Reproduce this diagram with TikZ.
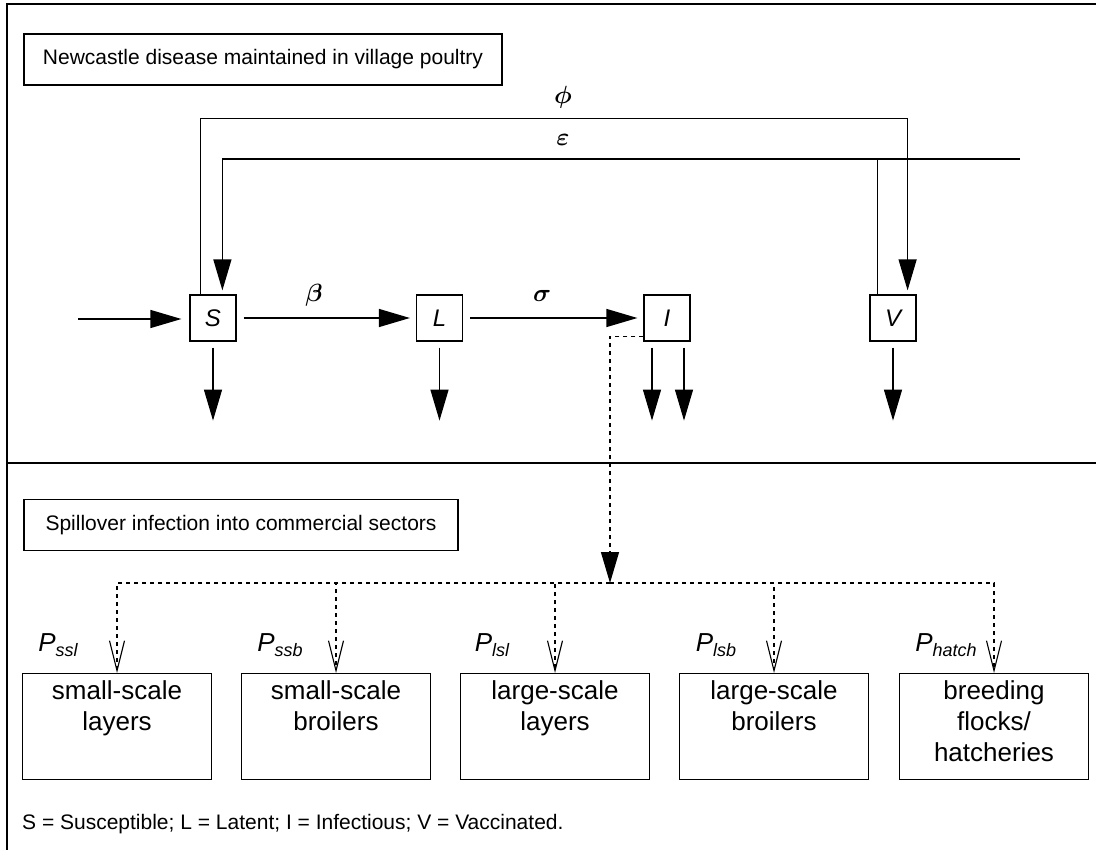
\documentclass[tikz,border=0pt]{standalone}
\usepackage{fontspec}
\setmainfont{Liberation Sans}
\usetikzlibrary{arrows.meta,calc}
\begin{document}
\begin{tikzpicture}[x=1pt,y=-1pt,
  lw/.style={line width=1.3pt},
  comp/.style={draw, line width=1.2pt, minimum width=46pt, minimum height=46pt, inner sep=0pt, font=\fontsize{24}{28}\selectfont\itshape},
  titlebox/.style={draw, line width=1.2pt, minimum height=51pt, inner sep=0pt, font=\fontsize{21}{25}\selectfont},
  sector/.style={draw, line width=1.2pt, minimum width=189pt, minimum height=106pt, inner sep=0pt, anchor=north, font=\fontsize{26}{31}\selectfont},
  greek/.style={inner sep=0pt, font=\fontsize{27}{32}\selectfont\boldmath},
  plabel/.style={inner sep=0pt, font=\fontsize{26}{30}\selectfont\itshape},
  bigarr/.style={-{Triangle[length=31pt,width=18pt]}, line width=1.3pt},
  dots/.style={dash pattern=on 4pt off 4pt, line width=1.3pt},
  openarr/.style={-{Straight Barb[length=30pt,width=15pt,line width=1.1pt]}}
]
\useasboundingbox (0,0) rectangle (1096,850);
% frame
\draw[line width=1.5pt] (7,850) -- (7,4) -- (1096,4);
\draw[line width=2.5pt] (7,463) -- (1096,463);

% titles
\node[titlebox, minimum width=478pt] (t1) at (263,59.5) {Newcastle disease maintained in village poultry};
\node[titlebox, minimum width=434pt] (t2) at (241,525) {Spillover infection into commercial sectors};

% compartments
\node[comp] (S) at (213,318) {S};
\node[comp] (L) at (439.5,318) {L};
\node[comp] (I) at (667,318) {I};
\node[comp] (V) at (893,318) {V};

\coordinate (in) at (78,319);
\draw[bigarr, shorten >=8pt] (in) -- (in -| S.west);
\draw[bigarr, shorten <=7pt, shorten >=6pt] (S.east) -- (L.west);
\draw[bigarr, shorten <=7pt, shorten >=6pt] (L.east) -- (I.west);
\node[greek] (beta) at (314,295) {$\beta$};
\node[greek] (sigma) at (542,296) {$\sigma$};

% phi loop S -> V
\draw[bigarr] ($(S.north west)+(11,0)$) -- ++(0,-176) -| ($(V.north east)+(-9,-4)$);
\node[greek] (phi) at (563,97) {$\phi$};
% epsilon loop V -> S
\coordinate (epsEnd) at (1020,159);
\draw[bigarr] (epsEnd) -| ($(S.north west)+(33,-4)$);
\draw[lw] ($(V.north west)+(8,0)$) |- (epsEnd);
\node[greek] (eps) at (563,140) {$\varepsilon$};

% outflows
\draw[bigarr] ($(S.south)+(0,6)$) -- ++(0,73);
\draw[bigarr] ($(L.south)+(0,6)$) -- ++(0,73);
\draw[bigarr] ($(I.south)+(-15,6)$) -- ++(0,73);
\draw[bigarr] ($(I.south)+(17,6)$) -- ++(0,73);
\draw[bigarr] ($(V.south)+(0,6)$) -- ++(0,73);

% sectors
\node[sector] (b1) at (117,673) {\parbox[c][106pt][t]{185pt}{\centering\rule{0pt}{26pt}small-scale\\layers}};
\node[sector] (b2) at (336,673) {\parbox[c][106pt][t]{185pt}{\centering\rule{0pt}{26pt}small-scale\\broilers}};
\node[sector] (b3) at (555,673) {\parbox[c][106pt][t]{185pt}{\centering\rule{0pt}{26pt}large-scale\\layers}};
\node[sector] (b4) at (774,673) {\parbox[c][106pt][t]{185pt}{\centering\rule{0pt}{26pt}large-scale\\broilers}};
\node[sector] (b5) at (994,673) {\parbox[c][106pt][t]{185pt}{\centering\rule{0pt}{26pt}breeding\\flocks/\\hatcheries}};

% spillover
\coordinate (hub) at (610,583);
\draw[dots, -{Triangle[length=31pt,width=18pt]}] ($(I.south west)+(0,-5)$) -| (hub);
\foreach \b in {b1,b2,b3,b4,b5}{
  \draw[dots, openarr] (hub) -| (\b.north);
}
\node[plabel] (p1) at (58,645) {P\raisebox{-5pt}{\fontsize{18}{20}\selectfont ssl}};
\node[plabel] (p2) at (280,645) {P\raisebox{-5pt}{\fontsize{18}{20}\selectfont ssb}};
\node[plabel] (p3) at (492,645) {P\raisebox{-5pt}{\fontsize{18}{20}\selectfont lsl}};
\node[plabel] (p4) at (716,645) {P\raisebox{-5pt}{\fontsize{18}{20}\selectfont lsb}};
\node[plabel] (p5) at (946,645) {P\raisebox{-5pt}{\fontsize{18}{20}\selectfont hatch}};

% legend
\node[anchor=west, inner sep=0pt, font=\fontsize{21}{25}\selectfont] (leg) at (22,824) {S = Susceptible; L = Latent; I = Infectious; V = Vaccinated.};
\end{tikzpicture}
\end{document}
